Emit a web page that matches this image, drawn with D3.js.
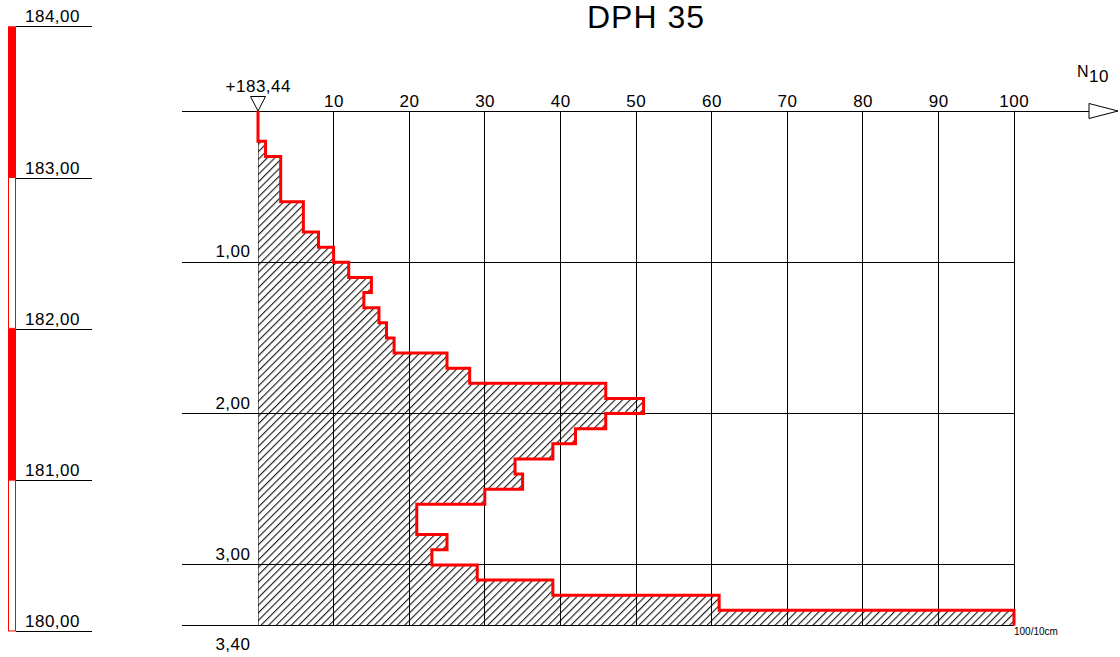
<!DOCTYPE html>
<html>
<head>
<meta charset="utf-8">
<script src="https://cdn.jsdelivr.net/npm/d3@7"></script>
<style>
  html, body { margin: 0; padding: 0; background: #fff; }
  svg { display: block; }
  text { font-family: "Liberation Sans", Arial, sans-serif; fill: #000; }
</style>
</head>
<body>
<svg id="chart" width="1120" height="657"></svg>
<script>
// ---------- data ----------
const title = "DPH 35";
const surfaceElevation = 183.44;
const surfaceLabel = "+183,44";
const finalDepth = 3.40;
const finalDepthLabel = "3,40";
// depth (m) of top of each 10 cm interval
const depthTops = [0.0,0.1,0.2,0.3,0.4,0.5,0.6,0.7,0.8,0.9,1.0,1.1,1.2,1.3,1.4,1.5,1.6,1.7,1.8,1.9,2.0,2.1,2.2,2.3,2.4,2.5,2.6,2.7,2.8,2.9,3.0,3.1,3.2,3.3];
// blows per 10 cm (N10)
const n10Values = [0,0,1,3,3,3,6,6,8,10,12,15,14,16,17,18,25,28,46,51,46,42,39,34,35,30,21,21,25,23,29,39,61,100];
const intervalSize = 0.1;
const nTicks = [10,20,30,40,50,60,70,80,90,100];
const depthTicks = [1,2,3];
const depthTickLabels = ["1,00","2,00","3,00"];
const elevationTicks = [184,183,182,181,180];
const elevationTickLabels = ["184,00","183,00","182,00","181,00","180,00"];
const layerTops = [184,183,182,181];
const layerFilled = [true,false,true,false];
const axisName = "N";
const axisSub = "10";
const unitLabel = "100/10cm";

// ---------- scales ----------
const svg = d3.select("#chart");
const x = d3.scaleLinear().domain([0, 100]).range([258, 1014]);
const y = d3.scaleLinear().domain([0, 3.4]).range([111, 625.4]);
const yElev = e => y(surfaceElevation - e);
const gridLeft = 182;
const FS = 17, LS = 0.5;

// ---------- defs: hatch ----------
const defs = svg.append("defs");
const pat = defs.append("pattern")
  .attr("id", "hatch")
  .attr("patternUnits", "userSpaceOnUse")
  .attr("width", 7.56 / Math.SQRT2)
  .attr("height", 10)
  .attr("patternTransform", "translate(258,0) rotate(45)");
pat.append("line")
  .attr("x1", 0.6).attr("y1", 0).attr("x2", 0.6).attr("y2", 10)
  .attr("stroke", "#000").attr("stroke-width", 1);

// ---------- title ----------
svg.append("text")
  .attr("x", 646).attr("y", 28)
  .attr("text-anchor", "middle")
  .attr("font-size", 32).attr("letter-spacing", 1)
  .text(title);

// ---------- left elevation bar ----------
const bar = svg.append("g");
layerTops.forEach((top, i) => {
  const y0 = yElev(top), y1 = yElev(top - 1);
  if (layerFilled[i]) {
    bar.append("rect").attr("x", 8).attr("y", y0).attr("width", 8).attr("height", y1 - y0)
      .attr("fill", "#ff0000");
  } else {
    bar.append("rect").attr("x", 8.5).attr("y", y0).attr("width", 7).attr("height", y1 - y0 - 0.5)
      .attr("fill", "#fff").attr("stroke", "#ff0000").attr("stroke-width", 1);
  }
});
elevationTicks.forEach((e, i) => {
  const yy = Math.round(yElev(e)) + 0.5;
  bar.append("line").attr("x1", 16).attr("x2", 92).attr("y1", yy).attr("y2", yy)
    .attr("stroke", "#000").attr("stroke-width", 1);
  bar.append("text").attr("x", 25).attr("y", yy - 4.5)
    .attr("font-size", FS).attr("letter-spacing", LS)
    .text(elevationTickLabels[i]);
});

// ---------- grid ----------
const grid = svg.append("g").attr("shape-rendering", "crispEdges");
nTicks.forEach(t => {
  grid.append("line").attr("x1", x(t)).attr("x2", x(t)).attr("y1", y(0)).attr("y2", y(finalDepth))
    .attr("stroke", "#000").attr("stroke-width", 1);
});
grid.append("line").attr("x1", x(0)).attr("x2", x(0)).attr("y1", y(0)).attr("y2", y(finalDepth))
  .attr("stroke", "#777").attr("stroke-width", 1);
depthTicks.forEach(d => {
  grid.append("line").attr("x1", gridLeft).attr("x2", x(100)).attr("y1", y(d)).attr("y2", y(d))
    .attr("stroke", "#000").attr("stroke-width", 1);
});
grid.append("line").attr("x1", gridLeft).attr("x2", x(100)).attr("y1", y(finalDepth)).attr("y2", y(finalDepth))
  .attr("stroke", "#000").attr("stroke-width", 1);
// top axis
grid.append("line").attr("x1", gridLeft).attr("x2", 1089).attr("y1", y(0)).attr("y2", y(0))
  .attr("stroke", "#000").attr("stroke-width", 1);
svg.append("path")
  .attr("d", `M1089,${y(0) - 7.5}L1118,${y(0)}L1089,${y(0) + 7.5}Z`)
  .attr("fill", "#fff").attr("stroke", "#000").attr("stroke-width", 1);

// tick labels
nTicks.forEach(t => {
  svg.append("text").attr("x", x(t) + 0.3).attr("y", 107)
    .attr("text-anchor", "middle").attr("font-size", FS).attr("letter-spacing", LS)
    .text(t);
});
depthTicks.forEach((d, i) => {
  svg.append("text").attr("x", 250.5).attr("y", y(d) - 5)
    .attr("text-anchor", "end").attr("font-size", FS).attr("letter-spacing", LS)
    .text(depthTickLabels[i]);
});
svg.append("text").attr("x", 250.5).attr("y", 650)
  .attr("text-anchor", "end").attr("font-size", FS).attr("letter-spacing", LS)
  .text(finalDepthLabel);

// axis name N10
svg.append("text").attr("x", 1077).attr("y", 77).attr("font-size", 16).text(axisName);
svg.append("text").attr("x", 1089).attr("y", 82).attr("font-size", 17).attr("letter-spacing", 0.5).text(axisSub);
svg.append("text").attr("x", 1014).attr("y", 635).attr("font-size", 10).text(unitLabel);

// ---------- profile ----------
const pts = [];
depthTops.forEach((d, i) => {
  pts.push([n10Values[i], d]);
  pts.push([n10Values[i], d + intervalSize]);
});
const line = d3.line().x(p => x(p[0])).y(p => y(p[1]));
const areaPts = pts.concat([[0, finalDepth], [0, 0]]);
svg.append("path").attr("d", line(areaPts) + "Z").attr("fill", "url(#hatch)").attr("stroke", "none");
svg.append("path").attr("d", line(pts))
  .attr("fill", "none").attr("stroke", "#ff0000").attr("stroke-width", 3)
  .attr("stroke-linejoin", "miter").attr("stroke-linecap", "butt");

// surface marker
svg.append("path")
  .attr("d", `M${x(0) - 7.5},${y(0) - 14.5}L${x(0) + 7.5},${y(0) - 14.5}L${x(0)},${y(0)}Z`)
  .attr("fill", "#fff").attr("stroke", "#000").attr("stroke-width", 1);
svg.append("text").attr("x", x(0) + 0.3).attr("y", 92)
  .attr("text-anchor", "middle").attr("font-size", FS).attr("letter-spacing", LS)
  .text(surfaceLabel);
</script>
</body>
</html>
